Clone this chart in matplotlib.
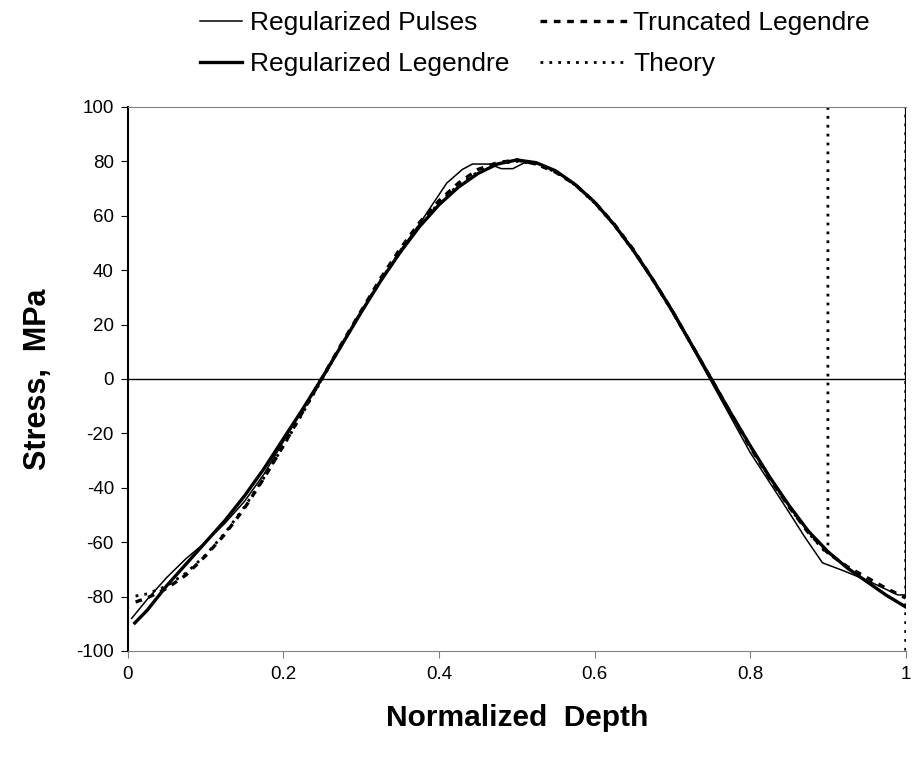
import numpy as np
import matplotlib
matplotlib.use("Agg")
from matplotlib import pyplot as plt

plt.rcParams['font.family'] = ['Liberation Sans', 'DejaVu Sans']
plt.rcParams['axes.unicode_minus'] = False

# Regularized Pulses (thin solid) - last point off scale at depth 1
pulses_x = [0.005, 0.025, 0.05, 0.075, 0.10, 0.125, 0.15, 0.175, 0.20, 0.225, 0.25, 0.275,
            0.30, 0.325, 0.35, 0.375, 0.41, 0.43, 0.443, 0.465, 0.48, 0.495, 0.51, 0.53,
            0.55, 0.575, 0.60, 0.625, 0.65, 0.675, 0.70, 0.725, 0.75, 0.775, 0.80, 0.825,
            0.85, 0.87, 0.893, 0.92, 0.95, 0.99, 1.0, 1.0]
pulses_y = [-88, -81, -73, -66, -60, -53, -45, -35, -23, -11, 0, 12.5,
            24.5, 36, 47, 57, 72, 77, 79, 79, 77.3, 77.3, 79.5, 79,
            76.5, 71.5, 65, 56.8, 47, 36.3, 24.5, 12, -1, -14, -27, -38,
            -49, -58, -67.6, -70.5, -74, -79.4, -79.4, 1000]

# Regularized Legendre (thick solid)
reg_leg_x = [0.009, 0.025, 0.05, 0.075, 0.10, 0.125, 0.15, 0.175, 0.20, 0.225, 0.25,
             0.275, 0.30, 0.325, 0.35, 0.375, 0.40, 0.425, 0.45, 0.475, 0.50,
             0.525, 0.55, 0.575, 0.60, 0.625, 0.65, 0.675, 0.70, 0.725, 0.75,
             0.775, 0.80, 0.825, 0.85, 0.875, 0.90, 0.925, 0.95, 0.975, 1.0]
reg_leg_y = [-89.7, -85, -76, -68, -60, -52, -43, -33, -22, -11, 0.5,
             12.5, 24.5, 36, 46.5, 56, 64, 70.5, 75.5, 79, 80.5,
             79.5, 76.5, 71.5, 65, 56.8, 47.2, 36.5, 25, 12.5, 0,
             -12.5, -24.5, -36, -46.5, -56, -63.5, -69.5, -74.5, -79.5, -83.8]

# Truncated Legendre (dashed)
trunc_x = [0.01, 0.025, 0.05, 0.075, 0.10, 0.125, 0.15, 0.175, 0.20, 0.225, 0.25,
           0.275, 0.30, 0.325, 0.35, 0.375, 0.40, 0.425, 0.45, 0.475, 0.50,
           0.525, 0.55, 0.575, 0.60, 0.625, 0.65, 0.675, 0.70, 0.725, 0.75,
           0.775, 0.80, 0.825, 0.85, 0.875, 0.90, 0.925, 0.95, 0.975, 1.0]
trunc_y = [-82, -80.5, -77, -72, -65, -57, -47.5, -36.5, -24.5, -12, 0.5,
           13, 25, 37, 47.8, 57.5, 65.5, 72, 77, 79.5, 80.5,
           79, 76, 71.5, 65, 57, 47.5, 36.5, 25, 12.5, 0,
           -12.5, -25, -36.5, -47, -56.5, -64, -69, -73, -77, -80.5]

# Theory (dotted) - jumps off scale between 0.9 and 1
theory_x = [0.01, 0.025, 0.05, 0.075, 0.10, 0.125, 0.15, 0.175, 0.20, 0.225, 0.25,
            0.275, 0.30, 0.325, 0.35, 0.375, 0.40, 0.425, 0.45, 0.475, 0.50,
            0.525, 0.55, 0.575, 0.60, 0.625, 0.65, 0.675, 0.70, 0.725, 0.75,
            0.775, 0.80, 0.825, 0.85, 0.875, 0.90, 0.90, 1.0, 1.0]
theory_y = [-79.8, -79.0, -76.1, -71.3, -64.7, -56.6, -47.0, -36.3, -24.7, -12.5, 0,
            12.5, 24.7, 36.3, 47.0, 56.6, 64.7, 71.3, 76.1, 79.0, 80,
            79.0, 76.1, 71.3, 64.7, 56.6, 47.0, 36.3, 24.7, 12.5, 0,
            -12.5, -24.7, -36.3, -47.0, -56.6, -64.7, 1000, 1000, -1000]

fig = plt.figure(figsize=(9.13, 7.62), dpi=100)
ax = fig.add_axes([0.140, 0.1457, 0.852, 0.714])

l1, = ax.plot(pulses_x, pulses_y, color="black", lw=1.1)
l2, = ax.plot(reg_leg_x, reg_leg_y, color="black", lw=2.4)
l3, = ax.plot(trunc_x, trunc_y, color="black", lw=2.4, ls=(0, (2.0, 2.0)))
l4, = ax.plot(theory_x, theory_y, color="black", lw=2.0, ls=(0, (1.0, 2.2)))

ax.axhline(0, color="black", lw=1.0)

ax.set_xlim(0, 1)
ax.set_ylim(-100, 100)
ax.set_xticks([0, 0.2, 0.4, 0.6, 0.8, 1])
ax.set_xticklabels(["0", "0.2", "0.4", "0.6", "0.8", "1"])
ax.set_yticks(range(-100, 101, 20))
ax.tick_params(axis="both", labelsize=13.5, direction="out", length=5, color="#808080")
ax.tick_params(axis="y", color="black", pad=5)
ax.tick_params(axis="x", pad=6)

ax.spines["right"].set_visible(False)
ax.spines["top"].set_color("#808080")
ax.spines["bottom"].set_color("#808080")
ax.spines["left"].set_color("black")
ax.spines["left"].set_linewidth(1.5)

ax.set_xlabel("Normalized  Depth", fontsize=21.5, fontweight="bold", labelpad=15)
ax.set_ylabel("Stress,  MPa", fontsize=22, fontweight="bold", labelpad=17)

leg1 = fig.legend([l1, l2], ["Regularized Pulses", "Regularized Legendre"],
                  loc="upper left", bbox_to_anchor=(0.219, 0.985), frameon=False,
                  fontsize=19, handlelength=1.6, handletextpad=0.3,
                  labelspacing=0.62, borderpad=0, borderaxespad=0)
leg2 = fig.legend([l3, l4], ["Truncated Legendre", "Theory"],
                  loc="upper left", bbox_to_anchor=(0.591, 0.985), frameon=False,
                  fontsize=19, handlelength=3.3, handletextpad=0.25,
                  labelspacing=0.62, borderpad=0, borderaxespad=0)

fig.savefig("out.png", dpi=100)
